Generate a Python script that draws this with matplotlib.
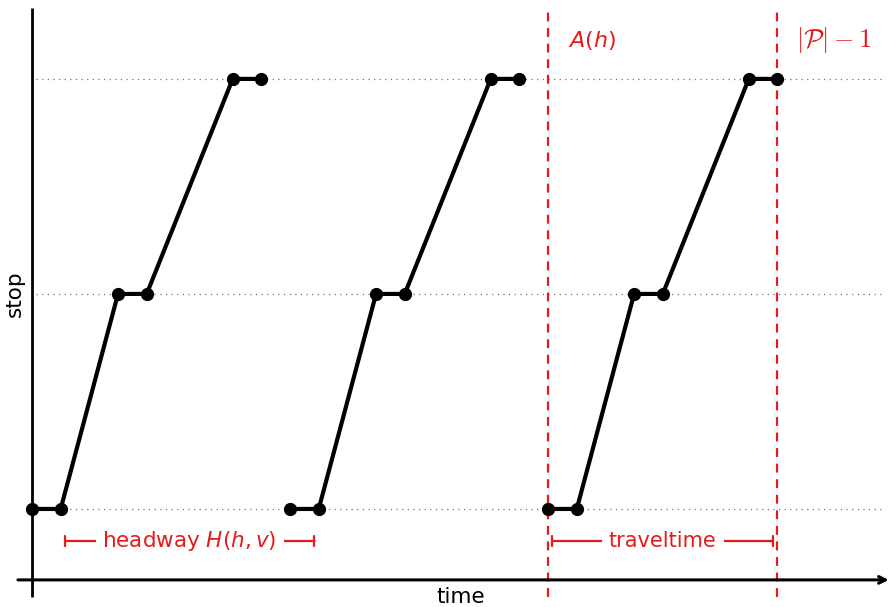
import numpy as np
import matplotlib
matplotlib.use("Agg")
import matplotlib.pyplot as plt

# Time-space diagram of one line: every trip dwells at a stop, then drives on.
stops = [0, 1, 2]
trip_starts = [0.0, 9.0, 18.0]
# offsets (relative to trip start) of arrival / departure at each stop
arrive_offsets = [0.0, 3.0, 7.0]
depart_offsets = [1.0, 4.0, 8.0]

RED = "#e41a1c"
plt.rcParams["font.family"] = ["DejaVu Sans"]
plt.rcParams["mathtext.fontset"] = "dejavusans"

fig = plt.figure(figsize=(8.89, 6.07), dpi=100)
ax = fig.add_axes([0, 0, 1, 1])
ax.set_xlim(-1.116, 29.89)
ax.set_ylim(-0.456, 2.367)
ax.axis("off")

# axes drawn by hand, TikZ style
x_axis_y = -0.33
ax.annotate("", xy=(29.88, x_axis_y), xytext=(-0.49, x_axis_y),
            annotation_clip=False,
            arrowprops=dict(arrowstyle="->", lw=2.2, color="black",
                            shrinkA=0, shrinkB=0, mutation_scale=12))
ax.plot([0, 0], [-0.41, 2.33], color="black", lw=2, solid_capstyle="butt")
ax.text(14.95, -0.41, "time", ha="center", va="center", fontsize=15.5)
ax.text(-0.6, 1.0, "stop", ha="center", va="center", rotation=90, fontsize=15.5)

# dotted stop levels
for s in stops:
    ax.plot([0.15, 29.75], [s, s], color="0.45", lw=0.9, ls=(0, (1, 3.5)), zorder=1)

# trips
for t0 in trip_starts:
    xs, ys = [], []
    for s, a, d in zip(stops, arrive_offsets, depart_offsets):
        xs += [t0 + a, t0 + d]
        ys += [s, s]
    ax.plot(xs, ys, color="black", lw=3, marker="o", ms=8.5, zorder=3,
            solid_capstyle="round")

# departure from first stop of the last trip and its end
t_dep = trip_starts[-1]
t_end = trip_starts[-1] + depart_offsets[-1]
for xv in (t_dep, t_end):
    ax.plot([xv, xv], [-0.41, 2.33], color=RED, lw=1.6, ls=(0, (4, 3)), zorder=2)
ax.text(t_dep + 0.7, 2.18, "$A(h)$", color=RED, fontsize=16, ha="left", va="center")
ax.text(t_end + 0.65, 2.18, r"$|\mathcal{P}| - 1$", color=RED, fontsize=19,
        ha="left", va="center", math_fontfamily="cm")


def bracket(x0, x1, y, label, size):
    ax.annotate("", xy=(x1 - 0.15, y), xytext=(x0 + 0.15, y),
                arrowprops=dict(arrowstyle="|-|, widthA=0.35, widthB=0.35",
                                color=RED, lw=1.6, shrinkA=0, shrinkB=0))
    ax.text((x0 + x1) / 2, y, label, color=RED, fontsize=size, ha="center",
            va="center", bbox=dict(facecolor="white", edgecolor="none", pad=5))


bracket(trip_starts[0] + depart_offsets[0], trip_starts[1] + depart_offsets[0],
        -0.149, "headway $H(h,v)$", 15.5)
bracket(t_dep, t_end, -0.149, "traveltime", 15)

fig.savefig("out.png", dpi=100)
